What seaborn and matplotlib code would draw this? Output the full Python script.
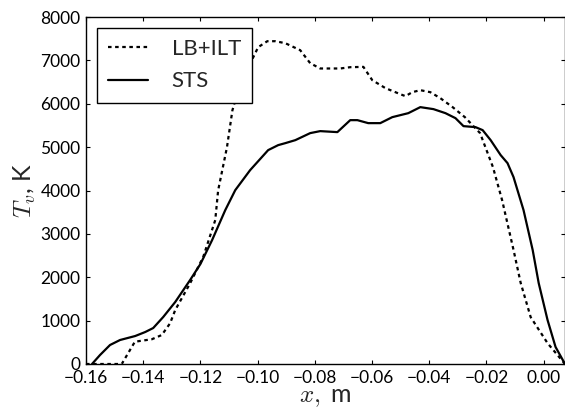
import numpy as np
import pandas as pd
import seaborn as sns
import matplotlib
matplotlib.use("Agg")
from matplotlib import pyplot as plt

# LB+ILT curve (dotted)
lb_x = [-0.160, -0.1475, -0.1429, -0.1370, -0.1335, -0.1306, -0.1288, -0.1236, -0.1190,
        -0.1148, -0.1138, -0.1107, -0.1088, -0.1055, -0.1015, -0.0998, -0.0966, -0.0938,
        -0.0903, -0.0851, -0.0816, -0.0781, -0.0711, -0.0676, -0.0630, -0.0599, -0.0553,
        -0.0501, -0.0483, -0.0459, -0.0431, -0.0396, -0.0361, -0.0318, -0.0275, -0.0222,
        -0.0177, -0.0145, -0.0105, -0.0080, -0.0045, 0.0014, 0.0075]
lb_t = [0, 0, 514, 570, 668, 938, 1244, 1860, 2470,
        3318, 4000, 5000, 5850, 6600, 7074, 7304, 7442, 7442,
        7396, 7235, 6935, 6813, 6813, 6843, 6850, 6544, 6360,
        6221, 6175, 6267, 6313, 6267, 6129, 5922, 5690, 5323,
        4540, 3780, 2630, 1870, 1080, 480, 0]

# STS curve (solid)
sts_x = [-0.1579, -0.1551, -0.1516, -0.1481, -0.1428, -0.1393, -0.1365, -0.1330, -0.1288,
         -0.1236, -0.1200, -0.1159, -0.1113, -0.1078, -0.1026, -0.0963, -0.0928, -0.0903,
         -0.0868, -0.0816, -0.0781, -0.0721, -0.0676, -0.0651, -0.0613, -0.0571, -0.0529,
         -0.0473, -0.0431, -0.0385, -0.0343, -0.0308, -0.0280, -0.0238, -0.0213, -0.0185,
         -0.0150, -0.0126, -0.0105, -0.0070, -0.0038, -0.0017, 0.0014, 0.0042, 0.0075]
sts_t = [0, 207, 438, 553, 645, 737, 829, 1083, 1429,
         1935, 2304, 2857, 3548, 4009, 4470, 4931, 5046, 5092,
         5161, 5323, 5369, 5346, 5622, 5622, 5553, 5553, 5691,
         5783, 5922, 5876, 5783, 5668, 5484, 5461, 5392, 5161,
         4816, 4631, 4309, 3548, 2627, 1866, 1014, 392, 0]

labels = ["LB+ILT", "STS"]
xticks = [-0.16, -0.14, -0.12, -0.10, -0.08, -0.06, -0.04, -0.02, 0.00]
yticks = [0, 1000, 2000, 3000, 4000, 5000, 6000, 7000, 8000]

sns.set_style("ticks")
plt.rcParams["font.family"] = ["Lato", "DejaVu Sans"]
plt.rcParams["mathtext.fontset"] = "cm"

lb = pd.DataFrame({"x": lb_x, "T": lb_t})
sts = pd.DataFrame({"x": sts_x, "T": sts_t})

fig = plt.figure(figsize=(5.65, 4.12), dpi=100)
ax = fig.add_axes([86 / 565, 48 / 412, 479 / 565, 347 / 412])

sns.lineplot(data=lb, x="x", y="T", sort=False, ax=ax, color="black",
             linewidth=1.6, label=labels[0])
sns.lineplot(data=sts, x="x", y="T", sort=False, ax=ax, color="black",
             linewidth=1.6, label=labels[1])
ax.lines[0].set_linestyle((0, (1.6, 1.6)))

ax.set_xlim(-0.16, 0.0075)
ax.set_ylim(0, 8000)
ax.set_xticks(xticks)
ax.set_xticklabels([f"{v:.2f}".replace("-", "\u2212") if v != 0 else "0.00" for v in xticks])
ax.set_yticks(yticks)

ax.tick_params(direction="in", top=True, right=True, length=3, width=0.8,
               labelsize=12.5, colors="black", pad=4)
for s in ax.spines.values():
    s.set_linewidth(1.0)
    s.set_color("black")

ax.set_xlabel(r"$x,$ m", fontsize=18, labelpad=0)
ax.set_ylabel(r"$T_v$, K", fontsize=18, labelpad=2)

ax.legend(loc="upper left", fontsize=16, frameon=True, fancybox=False,
          edgecolor="black", framealpha=1, handlelength=1.8, handletextpad=1.05,
          borderaxespad=0.5, labelspacing=0.55, borderpad=0.5)
ax.get_legend().get_frame().set_linewidth(1.0)

plt.savefig("out.png", dpi=100)
